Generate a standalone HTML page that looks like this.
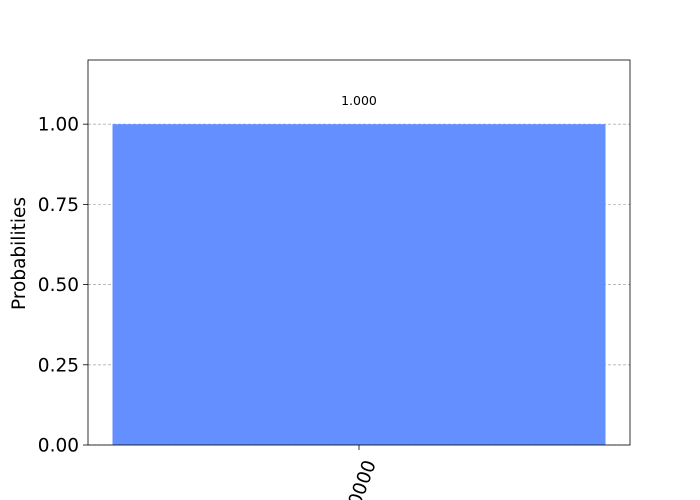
<!DOCTYPE html>
<html><head><style>body{margin:0;background:#fff}svg{display:block}</style></head>
<body>
<svg id="chart" width="700" height="500" xmlns="http://www.w3.org/2000/svg" font-family="'DejaVu Sans', 'Liberation Sans', sans-serif"></svg>
<script>
const categories = ["00000"];
const values = [1.0];
const valueLabels = ["1.000"];
const yTicks = [0, 0.25, 0.5, 0.75, 1.0];
const yTickLabels = ["0.00", "0.25", "0.50", "0.75", "1.00"];

const svg = document.getElementById('chart');
const NS = 'http://www.w3.org/2000/svg';
const L = 88, R = 630, T = 60, B = 445, yMax = 1.2;
const y = v => B - (v / yMax) * (B - T);
const band = (R - L) / categories.length;
const x = i => L + band * i + band / 2;
const barW = 493 / categories.length;
function mk(tag, attrs, text) {
  const el = document.createElementNS(NS, tag);
  for (const k in attrs) el.setAttribute(k, attrs[k]);
  if (text !== undefined) el.textContent = text;
  svg.appendChild(el);
  return el;
}
yTicks.forEach((t, i) => {
  const g = mk('line', {x1: L, x2: R, y1: y(t), y2: y(t), stroke: '#b0b0b0', 'stroke-dasharray': '3,2', 'stroke-width': 0.8});
  
  
});
categories.forEach((c, i) => {
  const b = mk('rect', {x: x(i) - barW / 2, y: y(values[i]), width: barW, height: B - y(values[i]), fill: '#648fff'});
  
  
  const vl = mk('text', {x: x(i), y: y(values[i]) - 19, 'text-anchor': 'middle', 'font-size': 12.5}, valueLabels[i]);
  
  
  const tk = mk('line', {x1: x(i), x2: x(i), y1: B, y2: B + 5, stroke: '#000', 'stroke-width': 0.8});
  
  
  const ax = x(i) + 17, ay = B + 18;
  const xl = mk('text', {x: ax, y: ay, 'text-anchor': 'end', 'font-size': 18.5, transform: `rotate(-70 ${ax} ${ay})`}, c);
  
  
});
yTicks.forEach((t, i) => {
  const tk = mk('line', {x1: L - 5, x2: L, y1: y(t), y2: y(t), stroke: '#000', 'stroke-width': 0.8});
  
  
  const tl = mk('text', {x: L - 9, y: y(t) + 6.5, 'text-anchor': 'end', 'font-size': 18.5}, yTickLabels[i]);
  
  
});
const frame = mk('rect', {x: L, y: T, width: R - L, height: B - T, fill: 'none', stroke: '#000', 'stroke-width': 0.8});


const yt = mk('text', {x: 25, y: (T + B) / 2 + 1, 'text-anchor': 'middle', 'font-size': 18.5, transform: `rotate(-90 25 ${(T + B) / 2 + 1})`}, 'Probabilities');


</script>
</body></html>
